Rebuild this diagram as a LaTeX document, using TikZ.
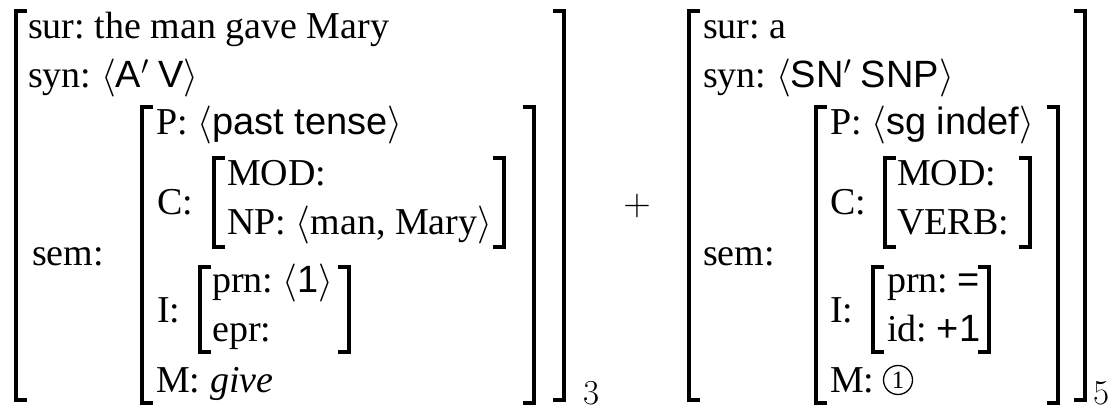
\RequirePackage{fix-cm}
\documentclass[tikz,border=0pt]{standalone}
\usepackage[no-math]{fontspec}
\setmainfont{Liberation Serif}
\setsansfont{Liberation Sans}
\frenchspacing

\newcommand{\ang}[1]{$\langle$#1$\rangle$}

\begin{document}
\begin{tikzpicture}[x=1pt, y=-1pt,
        font=\fontsize{38}{46}\selectfont,
        txt/.style={anchor=base west, inner sep=0pt},
        brk/.style={line width=4pt, line join=miter},
        idx/.style={txt, font=\fontsize{35}{42}\selectfont},
        num/.style={circle, draw, line width=1.3pt, inner sep=0pt, minimum size=29pt,
            font=\fontsize{25}{30}\selectfont}]

    \useasboundingbox (0,0) rectangle (1119,411);

    % ---------- first sign ----------
    \draw[brk] (27,11) -| (15.5,400) -- ++(11,0);
    \draw[brk] (553,11) -| (564,400) -- ++(-11,0);

    \node[txt] (sur1) at (28,39) {sur: the man gave Mary};
    \node[txt] (syn1) at (28,88) {syn: \ang{\textsf{A}$'$ \textsf{V}}};
    \node[txt] (sem1) at (32,266) {sem:};

    \draw[brk] (153,107) -| (142,403) -- ++(11,0);
    \draw[brk] (522.5,107) -| (533.5,403) -- ++(-11,0);

    \node[txt] (p1) at (156,135) {P: \ang{\textsf{past tense}}};
    \node[txt] (c1) at (157,215) {C:};
    \draw[brk] (224.5,158) -| (213.5,247) -- ++(11,0);
    \draw[brk] (493,158) -| (504,247) -- ++(-11,0);
    \node[txt] (mod1) at (227,186) {MOD:};
    \node[txt] (np1) at (227,235) {NP: \ang{man, Mary}};

    \node[txt] (i1) at (157,323) {I:};
    \draw[brk] (211,267) -| (200,352) -- ++(11,0);
    \draw[brk] (338,267) -| (349,352) -- ++(-11,0);
    \node[txt] (prn1) at (212,293) {prn: \ang{\textsf{1}}};
    \node[txt] (epr1) at (212,342) {epr:};

    \node[txt] (m1) at (156,392) {M: \textit{give}};
    \node[idx] (idx1) at (583,404) {$3$};

    \node (plus) at (637,206) {$+$};

    % ---------- second sign ----------
    \draw[brk] (700,11) -| (689,400) -- ++(11,0);
    \draw[brk] (1074,11) -| (1085,400) -- ++(-11,0);

    \node[txt] (sur2) at (703,39) {sur: a};
    \node[txt] (syn2) at (703,88) {syn: \ang{\textsf{SN}$'$ \textsf{SNP}}};
    \node[txt] (sem2) at (703,266) {sem:};

    \draw[brk] (827,107) -| (816,403) -- ++(11,0);
    \draw[brk] (1046.5,107) -| (1057.5,403) -- ++(-11,0);

    \node[txt] (p2) at (830,135) {P: \ang{\textsf{sg indef}}};
    \node[txt] (c2) at (830,215) {C:};
    \draw[brk] (896,158) -| (885,247) -- ++(11,0);
    \draw[brk] (1019,158) -| (1030,247) -- ++(-11,0);
    \node[txt] (mod2) at (897,186) {MOD:};
    \node[txt] (verb2) at (897,235) {VERB:};

    \node[txt] (i2) at (830,323) {I:};
    \draw[brk] (884,267) -| (873,352) -- ++(11,0);
    \draw[brk] (978,267) -| (989,352) -- ++(-11,0);
    \node[txt] (prn2) at (887,293) {prn: \textsf{=}};
    \node[txt] (id2) at (887,342) {id: \textsf{+1}};

    \node[txt] (m2) at (830,392) {M:};
    \node[num] (one2) at (898,380) {1};
    \node[idx] (idx2) at (1093,404) {$5$};
\end{tikzpicture}
\end{document}
